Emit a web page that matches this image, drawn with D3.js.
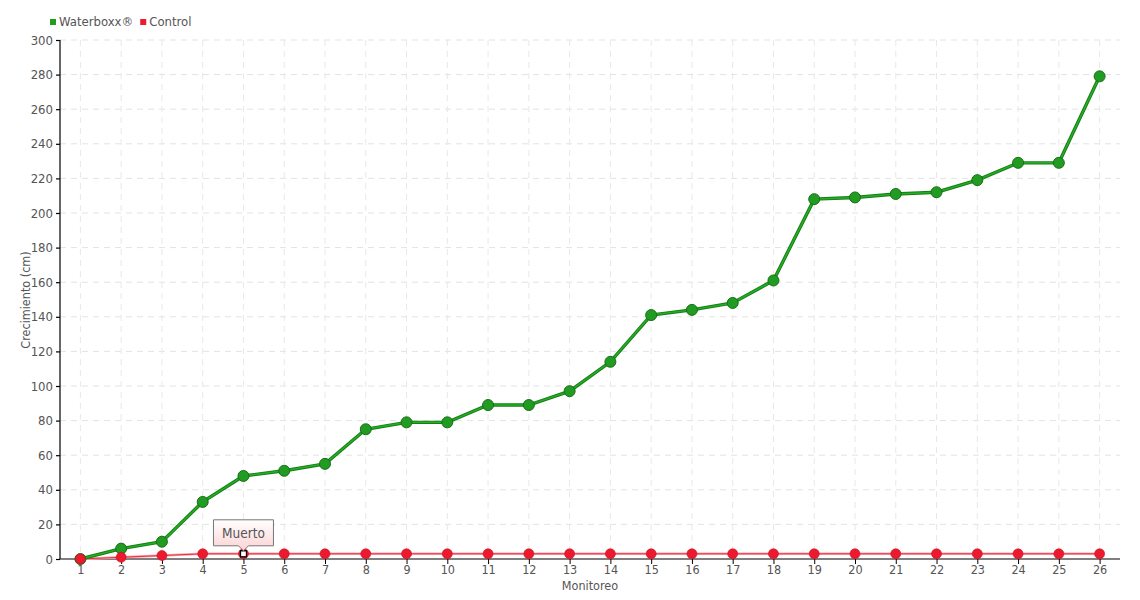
<!DOCTYPE html>
<html><head><meta charset="utf-8">
<script src="https://cdn.jsdelivr.net/npm/d3@7"></script>
<style>
body{margin:0;background:#fff;}
text{font-family:"DejaVu Sans Condensed","DejaVu Sans",sans-serif;font-stretch:condensed;fill:#555;}
</style></head><body>
<svg id="c" width="1140" height="600"></svg>
<script>
const categories = ["1","2","3","4","5","6","7","8","9","10","11","12","13","14","15","16","17","18","19","20","21","22","23","24","25","26"];
const waterboxx = [0,6,10,33,48,51,55,75,79,79,89,89,97,114,141,144,148,161,208,209,211,212,219,229,229,279];
const control = [0,1,2,3,3,3,3,3,3,3,3,3,3,3,3,3,3,3,3,3,3,3,3,3,3,3];
const yTicks = [0,20,40,60,80,100,120,140,160,180,200,220,240,260,280,300];
const seriesNames = ["Waterboxx®","Control"];
const annotation = {index:4, label:"Muerto"};

const svg = d3.select("#c");
const L=60, R=1120, T=40, B=559;
const x = d3.scalePoint().domain(categories).range([L,R]).padding(0.5);
const y = d3.scaleLinear().domain([0,300]).range([B,T]);

const defs = svg.append("defs");
const g1 = defs.append("linearGradient").attr("id","tipg").attr("x1",0).attr("y1",0).attr("x2",0).attr("y2",1);
g1.append("stop").attr("offset","0%").attr("stop-color","#ffffff");
g1.append("stop").attr("offset","100%").attr("stop-color","#fbd3d3");

// grid
svg.append("g").selectAll("line").data(yTicks.filter(d=>d>0)).join("line")
  .attr("x1",L).attr("x2",R).attr("y1",d=>y(d)).attr("y2",d=>y(d))
  .attr("stroke","#e3e3e3").attr("stroke-dasharray","6,5");
svg.append("g").selectAll("line").data(categories).join("line")
  .attr("x1",d=>x(d)).attr("x2",d=>x(d)).attr("y1",T).attr("y2",B)
  .attr("stroke","#e8e8e8").attr("stroke-dasharray","6,5");

// axes
const yAxis = svg.append("g").attr("transform",`translate(${L},0)`)
  .call(d3.axisLeft(y).tickValues(yTicks).tickSize(4).tickPadding(3));
yAxis.select(".domain").attr("d",`M0,${T}V${B}`).attr("stroke","#000").attr("stroke-width",1.2);
yAxis.selectAll(".tick line").attr("stroke","#000").attr("stroke-width",1.2);
yAxis.selectAll(".tick text").attr("font-size",13).style("fill","#555");

const xAxis = svg.append("g").attr("transform",`translate(0,${B})`)
  .call(d3.axisBottom(x).tickSize(5).tickPadding(1));
xAxis.select(".domain").attr("d",`M${L},0H${R}`).attr("stroke","#000").attr("stroke-width",1.2);
xAxis.selectAll(".tick line").attr("stroke","#000");
xAxis.selectAll(".tick text").attr("font-size",12.5).style("fill","#555");

svg.append("text").attr("transform","translate(30,300) rotate(-90)").attr("text-anchor","middle")
  .attr("font-size",12.5).text("Crecimiento (cm)");
svg.append("text").attr("x",590).attr("y",590).attr("text-anchor","middle").attr("font-size",12.5).text("Monitoreo");

// legend
const colors = ["#1f9e1f","#ee1b30"];
const lg = svg.append("g");
let lx = 50;
seriesNames.forEach((n,i)=>{
  lg.append("rect").attr("x",lx).attr("y",19).attr("width",6).attr("height",6).attr("fill",colors[i]);
  const t = lg.append("text").attr("x",lx+9).attr("y",26).attr("font-size",13).text(n);
  lx += 9 + t.node().getComputedTextLength() + 7;
});

const line = d3.line().x((d,i)=>x(categories[i])).y(d=>y(d));

// control series
svg.append("path").datum(control).attr("d",line).attr("fill","none").attr("stroke","#f7a7ae").attr("stroke-width",2.5);
svg.append("path").datum(control).attr("d",line).attr("fill","none").attr("stroke","#ee2a3c").attr("stroke-width",1);

// waterboxx series
svg.append("path").datum(waterboxx).attr("d",line).attr("fill","none").attr("stroke","#167e16").attr("stroke-width",3.4);
svg.append("path").datum(waterboxx).attr("d",line).attr("fill","none").attr("stroke","#25ad25").attr("stroke-width",1.5);

svg.append("g").selectAll("circle").data(waterboxx).join("circle")
  .attr("cx",(d,i)=>x(categories[i])).attr("cy",d=>y(d)).attr("r",5.5)
  .attr("fill","#219b21").attr("stroke","#167016").attr("stroke-width",1);

const ctrlPts = control.map((v,i)=>({v,i}));
svg.append("g").selectAll("circle").data(ctrlPts).join("circle")
  .attr("cx",d=>x(categories[d.i])).attr("cy",d=>y(d.v)).attr("r",5)
  .attr("fill","#ec1a2e").attr("stroke","#c8101f").attr("stroke-width",0.6);

// annotated point
const ax = x(categories[annotation.index]), ay = y(control[annotation.index]);
svg.append("rect").attr("x",ax-3).attr("y",ay-3).attr("width",6).attr("height",6)
  .attr("fill","#fff").attr("stroke","#000").attr("stroke-width",1.3);

// tooltip
const tw=60, th=26, tx=ax-30, ty=ay-34;
svg.append("path").attr("d",`M${tx},${ty}H${tx+tw}V${ty+th}H${ax+5}L${ax},${ty+th+5}L${ax-5},${ty+th}H${tx}Z`)
  .attr("fill","url(#tipg)").attr("stroke","#777").attr("stroke-width",1);
svg.append("text").attr("x",ax).attr("y",ty+18).attr("text-anchor","middle").attr("font-size",13.5).text(annotation.label);
</script></body></html>
